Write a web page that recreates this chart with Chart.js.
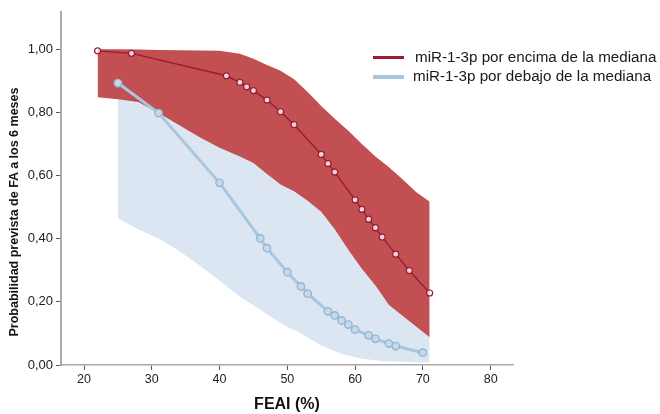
<!DOCTYPE html>
<html>
<head>
<meta charset="utf-8">
<script src="https://cdn.jsdelivr.net/npm/chart.js@4.4.1/dist/chart.umd.min.js"></script>
<style>
  html, body { margin: 0; padding: 0; background: #fff; }
  #wrap { position: relative; width: 660px; height: 414px; overflow: hidden; }
  #chart { position: absolute; left: 0; top: 0; }
  #yTitle {
    position: absolute; left: -135px; top: 204px; width: 300px; height: 16px;
    line-height: 16px; text-align: center; transform: rotate(-90deg);
    font: bold 12.5px "Liberation Sans", Arial, sans-serif; color: #111; white-space: nowrap;
  }
  .leg-line { position: absolute; left: 373px; width: 31px; }
  .leg-text {
    position: absolute; height: 20px; line-height: 20px; white-space: nowrap;
    font: 15.2px "Liberation Sans", Arial, sans-serif; color: #1a1a1a;
  }
</style>
</head>
<body>
<div id="wrap">
  <canvas id="chart" width="660" height="414"></canvas>
  <div id="yTitle"></div>
  <div id="legend"></div>
</div>
<script>
(function () {
  "use strict";

  var xTicks = [20, 30, 40, 50, 60, 70, 80];
  var yTicks = [0, 0.2, 0.4, 0.6, 0.8, 1.0];
  var yTickLabels = ["0,00", "0,20", "0,40", "0,60", "0,80", "1,00"];
  var xTitle = "FEAI (%)";
  var yTitle = "Probabilidad prevista de FA a los 6 meses";
  var seriesLabels = ["miR-1-3p por encima de la mediana", "miR-1-3p por debajo de la mediana"];

  // predicted probability, miR-1-3p above the median
  var aboveX = [22, 27, 41, 43, 44, 45, 47, 49, 51, 55, 56, 57, 60, 61, 62, 63, 64, 66, 68, 71];
  var aboveY = [0.995, 0.987, 0.916, 0.895, 0.881, 0.869, 0.839, 0.802, 0.761, 0.667, 0.638, 0.611,
                0.523, 0.493, 0.462, 0.435, 0.405, 0.351, 0.299, 0.228];

  // predicted probability, miR-1-3p below the median
  var belowX = [25, 31, 40, 46, 47, 50, 52, 53, 56, 57, 58, 59, 60, 62, 63, 65, 66, 70];
  var belowY = [0.893, 0.798, 0.577, 0.401, 0.370, 0.294, 0.249, 0.226, 0.170, 0.157, 0.141,
                0.128, 0.112, 0.094, 0.083, 0.068, 0.060, 0.039];

  // confidence band, above the median
  var aboveBandX = [22, 25, 28, 31, 34, 37, 40, 43, 45, 47, 49, 51, 53, 55, 57, 59, 61, 63, 65, 67, 69, 71];
  var aboveBandHi = [1.0, 1.0, 0.999, 0.998, 0.997, 0.996, 0.995, 0.986, 0.97, 0.95, 0.932, 0.905,
                     0.865, 0.82, 0.78, 0.742, 0.70, 0.66, 0.626, 0.588, 0.548, 0.517];
  var aboveBandLo = [0.848, 0.842, 0.833, 0.798, 0.76, 0.722, 0.688, 0.66, 0.64, 0.605, 0.572, 0.55,
                     0.52, 0.485, 0.43, 0.365, 0.305, 0.252, 0.19, 0.156, 0.122, 0.088];

  // confidence band, below the median
  var belowBandX = [25, 28, 31, 34, 37, 40, 43, 46, 49, 52, 55, 58, 61, 64, 67, 70, 71];
  var belowBandHi = [0.87, 0.86, 0.83, 0.79, 0.75, 0.72, 0.69, 0.66, 0.61, 0.57, 0.53, 0.45,
                     0.36, 0.27, 0.2, 0.14, 0.12];
  var belowBandLo = [0.464, 0.43, 0.40, 0.362, 0.316, 0.267, 0.216, 0.175, 0.132, 0.10, 0.062,
                     0.035, 0.02, 0.013, 0.01, 0.008, 0.008];

  var RED_LINE = "#9c1a33";
  var RED_BAND = "#c24f52";
  var BLUE_LINE = "#a8c6df";
  var BLUE_BAND = "#dce6f3";
  var FONT = "'Liberation Sans', Arial, sans-serif";

  function pts(xs, ys) {
    return xs.map(function (x, i) { return { x: x, y: ys[i] }; });
  }

  function band(xs, ys, fill, color) {
    return {
      data: pts(xs, ys),
      borderColor: "rgba(0,0,0,0)",
      borderWidth: 0,
      backgroundColor: color || "rgba(0,0,0,0)",
      pointRadius: 0,
      tension: 0,
      fill: fill
    };
  }

  var datasets = [
    {
      label: seriesLabels[0],
      data: pts(aboveX, aboveY),
      borderColor: RED_LINE,
      borderWidth: 1.4,
      pointRadius: 3,
      pointBorderWidth: 1.2,
      pointBorderColor: RED_LINE,
      pointBackgroundColor: "rgba(255,255,255,0.8)",
      tension: 0,
      fill: false
    },
    {
      label: seriesLabels[1],
      data: pts(belowX, belowY),
      borderColor: BLUE_LINE,
      borderWidth: 3,
      pointRadius: 3.7,
      pointBorderWidth: 1.4,
      pointBorderColor: "#94b6d2",
      pointBackgroundColor: "#c6d9ea",
      tension: 0,
      fill: false
    },
    band(aboveBandX, aboveBandHi, false),
    band(aboveBandX, aboveBandLo, "-1", RED_BAND),
    band(belowBandX, belowBandHi, false),
    band(belowBandX, belowBandLo, "-1", BLUE_BAND)
  ];

  new Chart(document.getElementById("chart"), {
    type: "line",
    data: { datasets: datasets },
    options: {
      responsive: false,
      animation: false,
      events: [],
      devicePixelRatio: 1,
      layout: { padding: { left: 0, top: 12, right: 147, bottom: 0 } },
      plugins: { legend: { display: false }, tooltip: { enabled: false } },
      scales: {
        x: {
          type: "linear",
          min: 16.6,
          max: 83.3,
          afterBuildTicks: function (s) { s.ticks = xTicks.map(function (v) { return { value: v }; }); },
          afterFit: function (s) { s.height = 49; },
          grid: { drawOnChartArea: false, tickLength: 5, color: "#555" },
          border: { display: true, color: "#aaa", width: 1.5 },
          ticks: { padding: 2, color: "#222", font: { family: FONT, size: 12.5 } },
          title: {
            display: true, text: xTitle, color: "#111",
            padding: { top: 0, bottom: 0 },
            font: { family: FONT, size: 16, weight: "bold" }
          }
        },
        y: {
          min: 0,
          max: 1.118,
          afterBuildTicks: function (s) { s.ticks = yTicks.map(function (v) { return { value: v }; }); },
          afterFit: function (s) { s.width = 61; },
          grid: { drawOnChartArea: false, tickLength: 5, color: "#555" },
          border: { display: true, color: "#aaa", width: 2 },
          ticks: {
            padding: 3, color: "#222", font: { family: FONT, size: 13 },
            callback: function (v, i) { return yTickLabels[i]; }
          }
        }
      }
    }
  });

  document.getElementById("yTitle").textContent = yTitle;

  var legend = document.getElementById("legend");
  var rows = [
    { color: RED_LINE, thick: 3, y: 57.7, tx: 415 },
    { color: BLUE_LINE, thick: 4, y: 76.7, tx: 413 }
  ];
  rows.forEach(function (r, i) {
    var line = document.createElement("div");
    line.className = "leg-line";
    line.style.top = (r.y - r.thick / 2) + "px";
    line.style.height = r.thick + "px";
    line.style.background = r.color;
    legend.appendChild(line);
    var txt = document.createElement("div");
    txt.className = "leg-text";
    txt.style.left = r.tx + "px";
    txt.style.top = (r.y - 10) + "px";
    txt.textContent = seriesLabels[i];
    legend.appendChild(txt);
  });
})();
</script>
</body>
</html>
